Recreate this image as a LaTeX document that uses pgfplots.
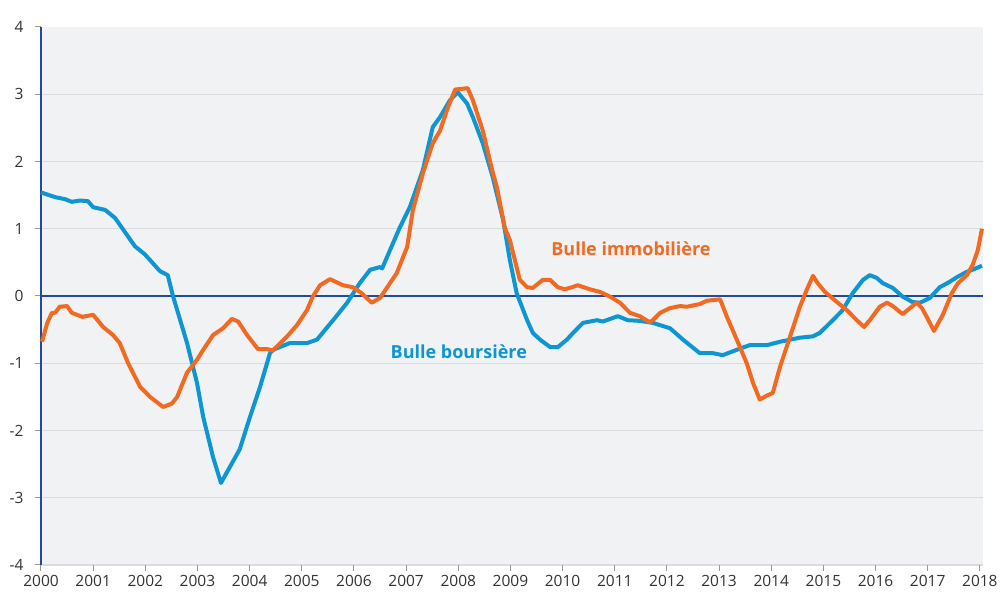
\documentclass[border=0pt]{standalone}
\usepackage{pgfplots}
\pgfplotsset{compat=1.18}
\usepackage{fontspec}
\setmainfont{Open Sans}
\definecolor{bgc}{HTML}{F1F2F4}
\definecolor{gridc}{HTML}{DADBDE}
\definecolor{axc}{HTML}{1F4AA0}
\definecolor{bluec}{HTML}{0E96D2}
\definecolor{orc}{HTML}{F26A22}
\definecolor{tickc}{HTML}{9A9A9A}
\definecolor{labc}{HTML}{333333}
\begin{document}
\begin{tikzpicture}
\begin{axis}[
  scale only axis, width=942pt, height=538pt,
  xmin=2000, xmax=2018.06, ymin=-4, ymax=4,
  axis background/.style={fill=bgc},
  axis x line*=bottom, axis y line*=left,
  x axis line style={draw=none},
  y axis line style={draw=axc, line width=2pt, -},
  xtick={2000,2001,...,2018},
  xticklabels={2000,2001,2002,2003,2004,2005,2006,2007,2008,2009,2010,2011,2012,2013,2014,2015,2016,2017,2018},
  ytick={-4,-3,...,3},
  yticklabels={-4,-3,-2,-1,0,1,2,3},
  extra y ticks={4}, extra y tick labels={4},
  extra y tick style={grid=none},
  tick align=outside,
  major tick length=6pt,
  tick style={draw=tickc, line width=1pt},
  ymajorgrids, grid style={draw=gridc, line width=1.2pt},
  ticklabel style={font=\fontsize{15.5}{18}\selectfont, text=labc},
  xticklabel style={yshift=-1pt},
  yticklabel style={xshift=-8pt},
  clip=false,
]
\addplot[draw=axc, line width=1.6pt] coordinates {(2000,0) (2018.06,0)};
% Bulle boursiere
\addplot[draw=bluec, line width=4pt, line join=round] coordinates {
(2000.00,1.54) (2000.27,1.47) (2000.46,1.44) (2000.59,1.40) (2000.75,1.42) (2000.90,1.41)
(2001.00,1.32) (2001.23,1.28) (2001.42,1.16) (2001.61,0.95) (2001.80,0.74) (2001.99,0.62)
(2002.13,0.50) (2002.28,0.37) (2002.43,0.31) (2002.53,0.00) (2002.80,-0.70) (2002.99,-1.29)
(2003.11,-1.80) (2003.30,-2.40) (2003.45,-2.78) (2003.81,-2.28) (2004.01,-1.79) (2004.20,-1.35)
(2004.39,-0.85) (2004.45,-0.80) (2004.77,-0.70) (2005.10,-0.70) (2005.29,-0.65) (2005.60,-0.36)
(2005.87,-0.10) (2006.11,0.19) (2006.31,0.39) (2006.50,0.43) (2006.54,0.41) (2006.69,0.68)
(2006.88,1.02) (2007.07,1.32) (2007.32,1.87) (2007.51,2.51) (2007.65,2.66) (2007.84,2.91)
(2007.99,3.03) (2008.17,2.86) (2008.28,2.66) (2008.47,2.27) (2008.66,1.77) (2008.86,1.13)
(2008.99,0.53) (2009.12,0.04) (2009.32,-0.36) (2009.43,-0.55) (2009.57,-0.65) (2009.76,-0.76)
(2009.91,-0.76) (2010.08,-0.65) (2010.20,-0.55) (2010.39,-0.40) (2010.66,-0.36) (2010.77,-0.38)
(2011.06,-0.30) (2011.25,-0.36) (2011.48,-0.37) (2011.73,-0.40) (2012.06,-0.48) (2012.31,-0.65)
(2012.63,-0.85) (2012.88,-0.85) (2013.07,-0.88) (2013.34,-0.80) (2013.59,-0.73) (2013.92,-0.73)
(2014.17,-0.68) (2014.55,-0.62) (2014.80,-0.60) (2014.93,-0.55) (2015.18,-0.36) (2015.37,-0.21)
(2015.56,0.04) (2015.76,0.24) (2015.89,0.31) (2016.02,0.27) (2016.14,0.19) (2016.33,0.12)
(2016.52,-0.01) (2016.71,-0.09) (2016.85,-0.10) (2017.04,-0.03) (2017.23,0.13) (2017.42,0.21)
(2017.56,0.28) (2017.75,0.36) (2017.86,0.39) (2018.04,0.45)
};
% Bulle immobiliere
\addplot[draw=orc, line width=4pt, line join=round] coordinates {
(2000.02,-0.68) (2000.12,-0.40) (2000.21,-0.25) (2000.27,-0.25) (2000.36,-0.16) (2000.50,-0.15)
(2000.59,-0.25) (2000.79,-0.31) (2001.00,-0.28) (2001.19,-0.46) (2001.38,-0.58) (2001.51,-0.70)
(2001.67,-1.00) (2001.90,-1.35) (2002.09,-1.50) (2002.34,-1.65) (2002.51,-1.60) (2002.61,-1.50)
(2002.80,-1.14) (2002.99,-0.95) (2003.11,-0.80) (2003.30,-0.58) (2003.49,-0.48) (2003.66,-0.34)
(2003.78,-0.38) (2003.95,-0.58) (2004.16,-0.79) (2004.33,-0.79) (2004.45,-0.81) (2004.72,-0.60)
(2004.91,-0.43) (2005.10,-0.21) (2005.21,-0.01) (2005.35,0.16) (2005.54,0.25) (2005.79,0.16)
(2005.98,0.13) (2006.15,0.04) (2006.34,-0.10) (2006.50,-0.03) (2006.56,0.04) (2006.82,0.34)
(2007.02,0.73) (2007.13,1.28) (2007.32,1.82) (2007.51,2.27) (2007.65,2.46) (2007.80,2.80)
(2007.94,3.07) (2008.18,3.09) (2008.28,2.91) (2008.47,2.46) (2008.65,1.87) (2008.74,1.62)
(2008.89,1.02) (2008.99,0.83) (2009.05,0.64) (2009.18,0.24) (2009.32,0.13) (2009.43,0.12)
(2009.62,0.24) (2009.76,0.24) (2009.91,0.13) (2010.04,0.10) (2010.18,0.13) (2010.29,0.16)
(2010.52,0.10) (2010.72,0.06) (2010.91,-0.01) (2011.10,-0.10) (2011.29,-0.25) (2011.48,-0.30)
(2011.67,-0.39) (2011.73,-0.36) (2011.87,-0.25) (2012.06,-0.18) (2012.25,-0.15) (2012.38,-0.16)
(2012.63,-0.12) (2012.77,-0.07) (2013.02,-0.05) (2013.15,-0.31) (2013.34,-0.65) (2013.53,-1.00)
(2013.65,-1.29) (2013.78,-1.54) (2013.92,-1.48) (2014.03,-1.44) (2014.17,-1.05) (2014.32,-0.70)
(2014.55,-0.16) (2014.68,0.09) (2014.80,0.30) (2014.89,0.19) (2015.03,0.06) (2015.26,-0.09)
(2015.45,-0.21) (2015.64,-0.36) (2015.78,-0.46) (2015.89,-0.36) (2016.08,-0.16) (2016.22,-0.10)
(2016.33,-0.15) (2016.52,-0.27) (2016.66,-0.18) (2016.79,-0.10) (2016.89,-0.18) (2016.98,-0.31)
(2017.12,-0.52) (2017.29,-0.28) (2017.46,0.04) (2017.58,0.19) (2017.75,0.31) (2017.86,0.46)
(2017.96,0.68) (2018.04,1.00)
};
\node[text=orc, font=\bfseries\fontsize{18}{21}\selectfont] at (axis cs:2011.31,0.71) {Bulle immobilière};
\node[text=bluec, font=\bfseries\fontsize{18}{21}\selectfont] at (axis cs:2008.01,-0.83) {Bulle boursière};
\end{axis}
\path (current axis.south west) ++(-41pt,-29pt) rectangle ([shift={(19pt,27pt)}]current axis.north east);
\end{tikzpicture}
\end{document}
